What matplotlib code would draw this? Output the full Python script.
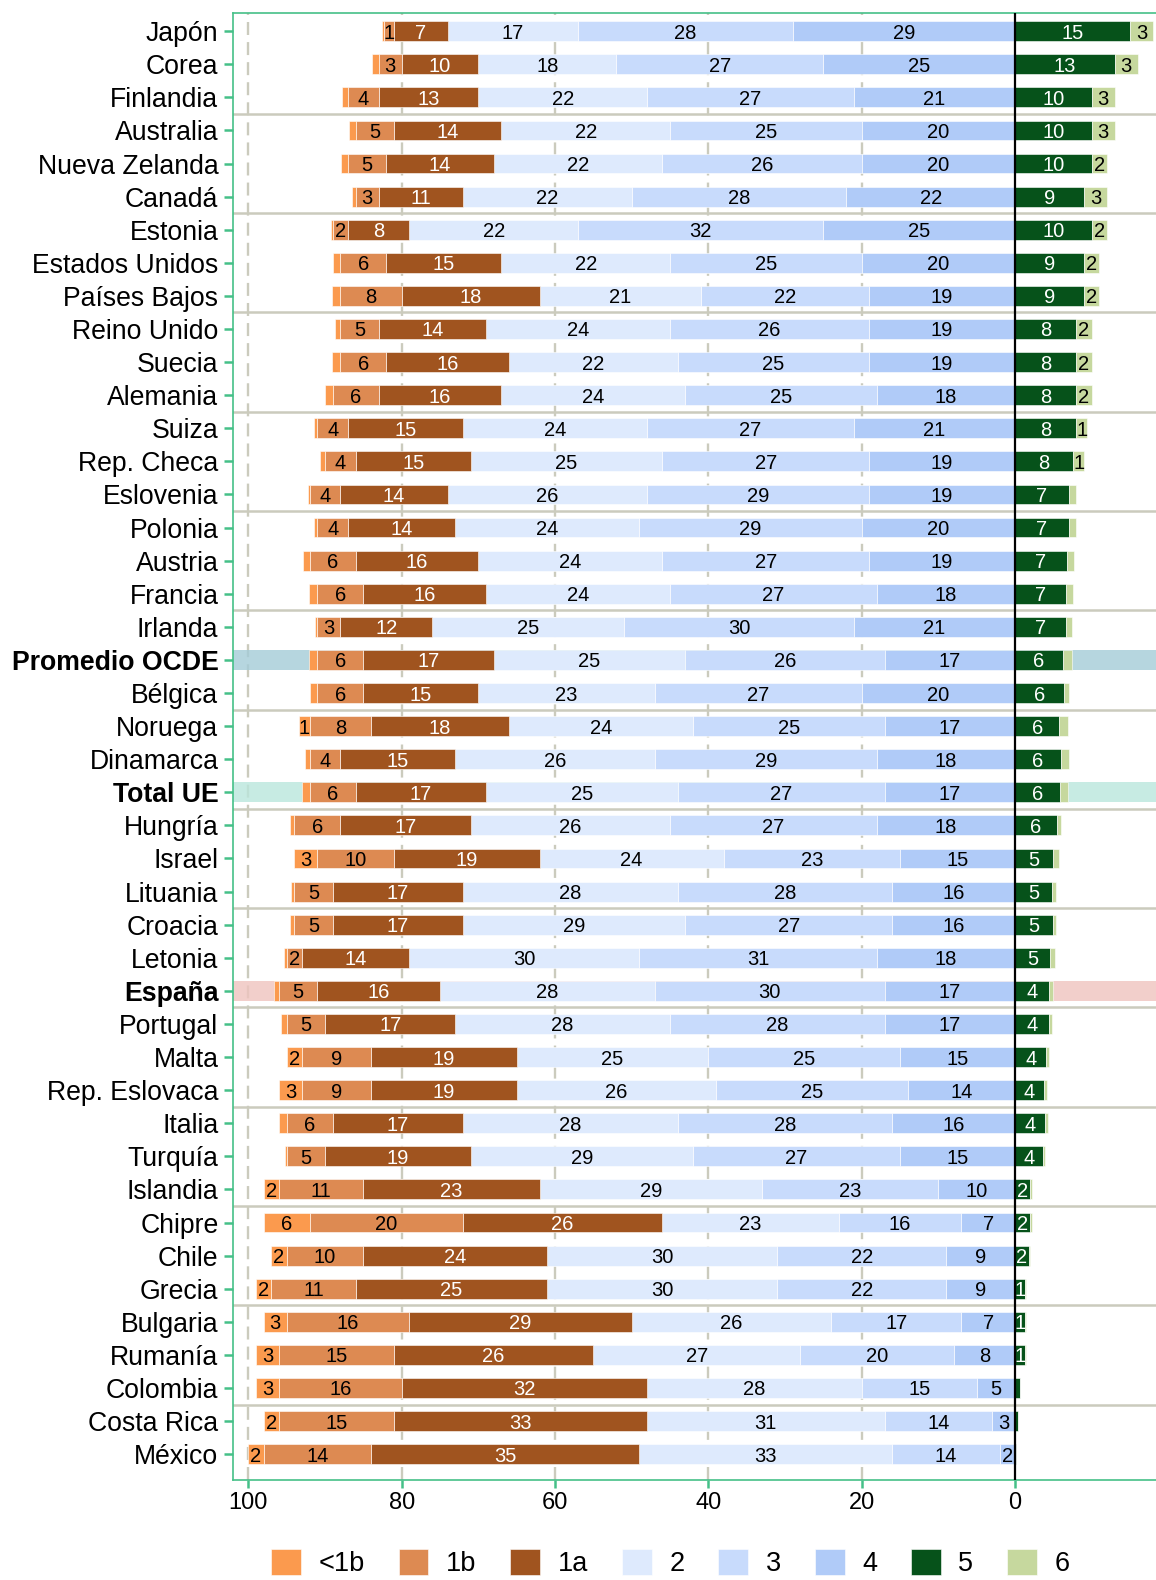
import numpy as np
import matplotlib.pyplot as plt
from matplotlib.patches import Patch

plt.rcParams['font.family'] = ['Liberation Sans', 'DejaVu Sans']

paises = ["Japón", "Corea", "Finlandia", "Australia", "Nueva Zelanda", "Canadá",
          "Estonia", "Estados Unidos", "Países Bajos", "Reino Unido", "Suecia", "Alemania",
          "Suiza", "Rep. Checa", "Eslovenia", "Polonia", "Austria", "Francia",
          "Irlanda", "Promedio OCDE", "Bélgica", "Noruega", "Dinamarca", "Total UE",
          "Hungría", "Israel", "Lituania", "Croacia", "Letonia", "España",
          "Portugal", "Malta", "Rep. Eslovaca", "Italia", "Turquía", "Islandia",
          "Chipre", "Chile", "Grecia", "Bulgaria", "Rumanía", "Colombia",
          "Costa Rica", "México"]

# porcentaje de alumnos por nivel de rendimiento
n_lt1b = [0.3, 0.9, 0.8, 0.9, 0.9, 0.5, 0.2, 0.9, 1.1, 0.7, 1.1, 1.0,
          0.4, 0.6, 0.2, 0.4, 0.9, 1.1, 0.3, 1.1, 1.0, 1.4, 0.6, 1.0,
          0.6, 3, 0.5, 0.6, 0.3, 0.7, 0.7, 2, 3, 1.0, 0.2, 2,
          6, 2, 2, 3, 3, 3, 2, 2]
n_1b = [1.3, 3, 4, 5, 5, 3, 2, 6, 8, 5, 6, 6,
        4, 4, 4, 4, 6, 6, 3, 6, 6, 8, 4, 6,
        6, 10, 5, 5, 2, 5, 5, 9, 9, 6, 5, 11,
        20, 10, 11, 16, 15, 16, 15, 14]
n_1a = [7, 10, 13, 14, 14, 11, 8, 15, 18, 14, 16, 16,
        15, 15, 14, 14, 16, 16, 12, 17, 15, 18, 15, 17,
        17, 19, 17, 17, 14, 16, 17, 19, 19, 17, 19, 23,
        26, 24, 25, 29, 26, 32, 33, 35]
n_2 = [17, 18, 22, 22, 22, 22, 22, 22, 21, 24, 22, 24,
       24, 25, 26, 24, 24, 24, 25, 25, 23, 24, 26, 25,
       26, 24, 28, 29, 30, 28, 28, 25, 26, 28, 29, 29,
       23, 30, 30, 26, 27, 28, 31, 33]
n_3 = [28, 27, 27, 25, 26, 28, 32, 25, 22, 26, 25, 25,
       27, 27, 29, 29, 27, 27, 30, 26, 27, 25, 29, 27,
       27, 23, 28, 27, 31, 30, 28, 25, 25, 28, 27, 23,
       16, 22, 22, 17, 20, 15, 14, 14]
n_4 = [29, 25, 21, 20, 20, 22, 25, 20, 19, 19, 19, 18,
       21, 19, 19, 20, 19, 18, 21, 17, 20, 17, 18, 17,
       18, 15, 16, 16, 18, 17, 17, 15, 14, 16, 15, 10,
       7, 9, 9, 7, 8, 5, 3, 2]
n_5 = [15, 13, 10, 10, 10, 9, 10, 9, 9, 8, 8, 8,
       8, 7.6, 7, 7, 6.8, 6.7, 6.7, 6.3, 6.4, 5.8, 6, 5.9,
       5.5, 4.9, 4.8, 4.9, 4.6, 4.4, 4.4, 4.1, 3.8, 3.9, 3.7, 2,
       2, 1.8, 1.3, 1.3, 1.3, 0.6, 0.4, 0.1]
n_6 = [3, 3, 3, 3, 2, 3, 2, 2, 2, 2, 2, 2,
       1.4, 1.4, 0.9, 0.9, 0.9, 0.9, 0.7, 1.1, 0.7, 1.1, 1.0, 1.0,
       0.5, 0.9, 0.6, 0.5, 0.6, 0.5, 0.4, 0.4, 0.4, 0.4, 0.2, 0.2,
       0.2, 0.1, 0.1, 0.1, 0.1, 0.0, 0.0, 0.0]

niveles = ["<1b", "1b", "1a", "2", "3", "4", "5", "6"]
colores = ["#fb9a4e", "#dd8a52", "#a0541f", "#deeafd",
           "#c8dbfc", "#b0cbf8", "#06521a", "#c6d89e"]
texto_blanco = ["1a", "5"]

destacados = {"Promedio OCDE": "#a4ccd8", "Total UE": "#bae6dc", "España": "#efc4bf"}

verde = "#45c088"
gris = "#cbcbbd"

fig = plt.figure(figsize=(11.56, 15.8), dpi=100)
ax = fig.add_axes([0.2016, 0.0633, 0.7984, 0.9285])

y = np.arange(len(paises))
h = 0.6

# bandas de los paises destacados
for nombre, c in destacados.items():
    i = paises.index(nombre)
    ax.axhspan(i - h / 2, i + h / 2, color=c, alpha=0.8, lw=0, zorder=2)

# niveles bajos hacia la izquierda (eje invertido), 5 y 6 hacia la derecha
izq = [(n_4, "4"), (n_3, "3"), (n_2, "2"), (n_1a, "1a"), (n_1b, "1b"), (n_lt1b, "<1b")]
der = [(n_5, "5"), (n_6, "6")]

def apilar(series, signo):
    base = np.zeros(len(paises))
    for vals, nivel in series:
        v = np.array(vals, dtype=float)
        c = colores[niveles.index(nivel)]
        ax.barh(y, signo * v, left=base, height=h, color=c,
                edgecolor="white", linewidth=0.4, zorder=3)
        tc = "white" if nivel in texto_blanco else "black"
        for yi, vi, bi in zip(y, v, base):
            if vi >= 1.2:
                ax.text(bi + signo * vi / 2, yi, f"{round(vi):d}", ha="center",
                        va="center_baseline", fontsize=14.5, color=tc, zorder=5)
        base = base + signo * v

apilar(izq, 1)
apilar(der, -1)

# rejilla
for xv in [100, 80, 60, 40, 20]:
    ax.axvline(xv, color=gris, lw=1.7, ls=(0, (5.5, 3)), zorder=1)
for k in range(3, len(paises), 3):
    ax.axhline(k - 0.5, color=gris, lw=1.8, zorder=1)
ax.axvline(0, color="black", lw=1.6, zorder=6)

ax.set_xlim(102, -18.4)
ax.set_ylim(len(paises) - 1 + 0.78, -0.55)

ax.set_xticks([100, 80, 60, 40, 20, 0])
ax.set_xticklabels(["100", "80", "60", "40", "20", "0"], fontsize=17)
ax.set_yticks(y)
ax.set_yticklabels(paises, fontsize=19.2)
for lab in ax.get_yticklabels():
    if lab.get_text() in destacados:
        lab.set_fontweight("bold")

ax.tick_params(axis="y", colors=verde, labelcolor="black", length=6.5, width=1.8, pad=4)
ax.tick_params(axis="x", colors=verde, labelcolor="black", length=6, width=1.8, pad=3)
ax.get_xticklines()[-2].set_color("black")
for s in ["left", "top", "bottom"]:
    ax.spines[s].set_color(verde)
    ax.spines[s].set_linewidth(1.2)
ax.spines["right"].set_visible(False)

handles = [Patch(facecolor=c, edgecolor="white", linewidth=0.4) for c in colores]
fig.legend(handles, niveles, loc="center", bbox_to_anchor=(0.58, 0.011), ncol=8,
           frameon=False, fontsize=19.5, handlelength=1.1, handleheight=1.1,
           handletextpad=0.65, columnspacing=1.25)

fig.savefig("out.png", dpi=100)
